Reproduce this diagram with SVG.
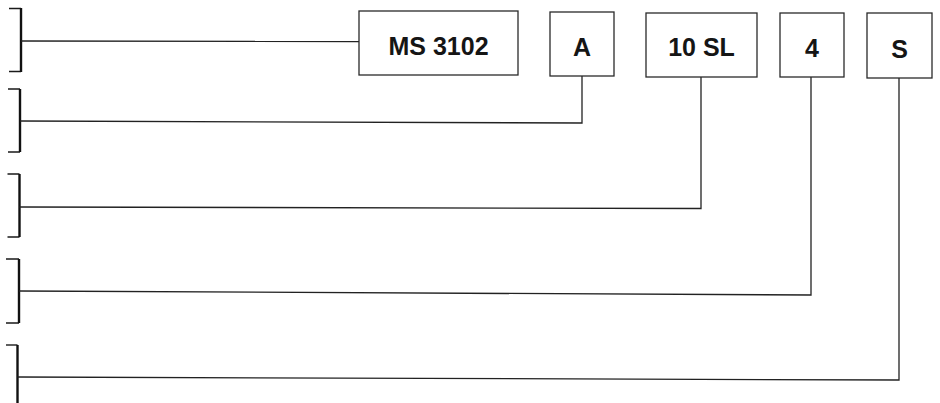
<svg xmlns="http://www.w3.org/2000/svg" width="940" height="403" viewBox="0 0 940 403">
<style>
.box{fill:#fff;stroke:#2a2a2a;stroke-width:1.3}
.lbl{font-family:"Liberation Sans",Arial,sans-serif;font-weight:bold;font-size:25px;fill:#151515;text-anchor:middle}
.con{fill:none;stroke:#222;stroke-width:1.3}
.brk{fill:none;stroke:#1a1a1a;stroke-width:1.4}
.brkv{fill:none;stroke:#111;stroke-width:2.4}
</style>
<rect width="940" height="403" fill="#fff"/>
<g id="brackets">
<path class="brk" d="M9 8.5H21M9 71.5H21"/><path class="brkv" d="M21 8V72"/>
<path class="brk" d="M8 89H20M8 152H20"/><path class="brkv" d="M20 89V152"/>
<path class="brk" d="M7.5 174H19.5M7.5 237H19.5"/><path class="brkv" d="M19.5 174V237"/>
<path class="brk" d="M6 259H19M6 323H19"/><path class="brkv" d="M19 259V323"/>
<path class="brk" d="M6 345H17.5"/><path class="brkv" d="M17.5 345V403"/>
</g>
<g id="connectors">
<polyline class="con" points="21,41 359,41.5"/>
<polyline class="con" points="20,121 582,123 582,76"/>
<polyline class="con" points="19.5,207 701,208.5 701,77"/>
<polyline class="con" points="19,291 811,295 811,77"/>
<polyline class="con" points="17.5,377 899,380 899,78"/>
</g>
<g id="node-ms3102"><rect class="box" x="359" y="11" width="159" height="64"/><text class="lbl" x="438.5" y="55">MS 3102</text></g>
<g id="node-a"><rect class="box" x="550" y="12" width="64" height="64"/><text class="lbl" x="582" y="56">A</text></g>
<g id="node-10sl"><rect class="box" x="646" y="13" width="111" height="64"/><text class="lbl" x="701.5" y="56">10 SL</text></g>
<g id="node-4"><rect class="box" x="780" y="13" width="64" height="64"/><text class="lbl" x="812" y="57">4</text></g>
<g id="node-s"><rect class="box" x="867" y="13" width="65" height="65"/><text class="lbl" x="899.5" y="58">S</text></g>
</svg>
